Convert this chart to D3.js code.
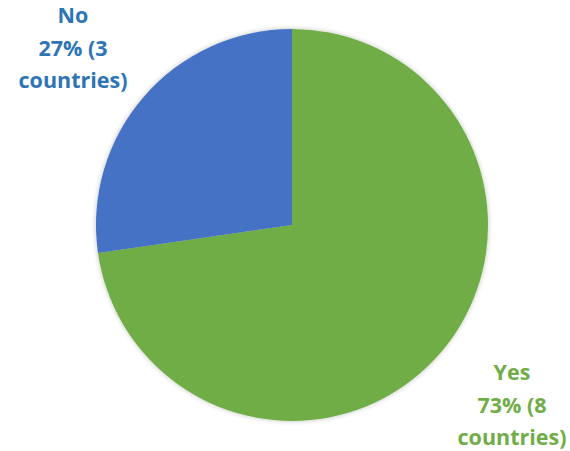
<!DOCTYPE html>
<html>
<head>
<meta charset="utf-8">
<script src="https://cdn.jsdelivr.net/npm/d3@7"></script>
<style>
  html, body { margin: 0; padding: 0; background: #fff; }
  svg { display: block; }
</style>
</head>
<body>
<svg id="chart" width="570" height="451"></svg>
<script>
// Survey answers: number of countries per response
const categories = ["Yes", "No"];
const counts = [8, 3];
const sliceColors = ["#70AD47", "#4472C4"];
const labelColors = ["#70AD47", "#2E75B6"];

const width = 570, height = 451;
const cx = 292, cy = 225, radius = 196;

const svg = d3.select("#chart");
const total = d3.sum(counts);
const data = categories.map((c, i) => ({ name: c, value: counts[i], i }));

const pie = d3.pie().sort(null).value(d => d.value);
const arc = d3.arc().innerRadius(0).outerRadius(radius);
const arcs = pie(data);

const defs = svg.append("defs");
const shadow = defs.append("filter").attr("id", "soft").attr("x", "-10%").attr("y", "-10%").attr("width", "120%").attr("height", "120%");
shadow.append("feGaussianBlur").attr("in", "SourceAlpha").attr("stdDeviation", 2.5);
shadow.append("feComponentTransfer").append("feFuncA").attr("type", "linear").attr("slope", 0.25);
const merge = shadow.append("feMerge");
merge.append("feMergeNode");
merge.append("feMergeNode").attr("in", "SourceGraphic");

const g = svg.append("g").attr("transform", `translate(${cx},${cy})`).attr("filter", "url(#soft)");
g.selectAll("path")
  .data(arcs)
  .join("path")
  .attr("d", arc)
  .attr("fill", d => sliceColors[d.data.i]);

// Outside labels: name, percentage and count on three lines
const labelPos = { Yes: [512, 380], No: [73, 23] };
const font = "'Open Sans', 'DejaVu Sans', sans-serif";
arcs.forEach(d => {
  const [x, y] = labelPos[d.data.name];
  const pct = Math.round(d.data.value / total * 100);
  const lines = [d.data.name, `${pct}% (${d.data.value}`, "countries)"];
  const t = svg.append("text")
    .attr("text-anchor", "middle")
    .attr("font-family", font)
    .attr("font-weight", "bold")
    .attr("font-size", 21.5)
    .attr("fill", labelColors[d.data.i]);
  lines.forEach((s, k) => {
    t.append("tspan").attr("x", x).attr("y", y + k * 32.5).text(s);
  });
});
</script>
</body>
</html>
